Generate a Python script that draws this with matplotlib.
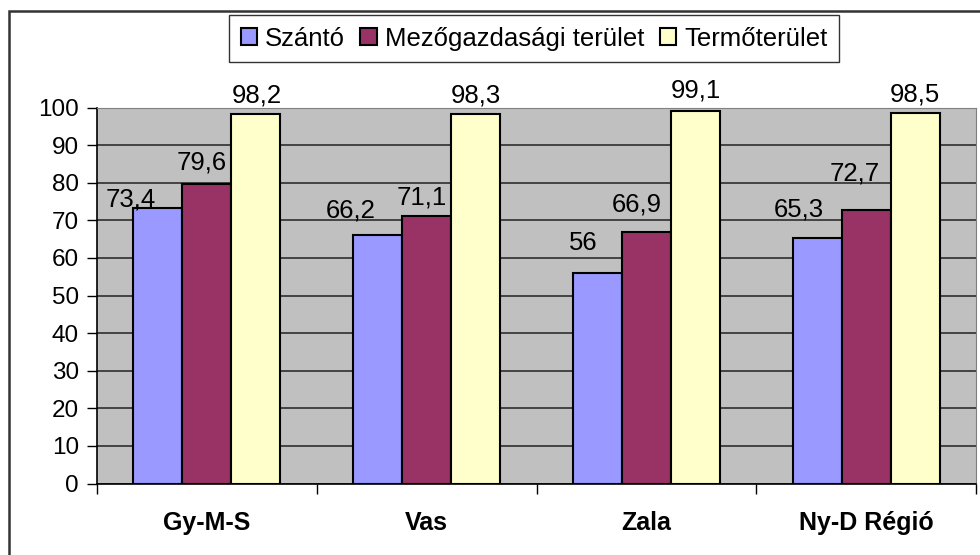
import matplotlib.pyplot as plt
import matplotlib.patches as patches
import numpy as np

plt.rcParams['font.family'] = ['Liberation Sans', 'DejaVu Sans']

regiok = ['Gy-M-S', 'Vas', 'Zala', 'Ny-D Régió']
szanto = [73.4, 66.2, 56, 65.3]
mezogazd = [79.6, 71.1, 66.9, 72.7]
termo = [98.2, 98.3, 99.1, 98.5]
sorozatok = ['Szántó', 'Mezőgazdasági terület', 'Termőterület']
szinek = ['#9999FF', '#993366', '#FFFFCC']

# label nudges in pixels (the original labels were hand placed)
dx = [[-27, -27, -14, -18],
      [-5, -5, -10, -11],
      [1, 0, 0, 0]]
dy = [[1, 17, 23, 21],
      [15, 12, 20, 30],
      [12, 11, 13, 12]]

fig = plt.figure(figsize=(9.8, 5.55), dpi=100)
ax = fig.add_axes([97/980, 1-483.5/555, 879/980, 376/555])
ax.set_facecolor('#C0C0C0')

x = np.arange(len(regiok))
w = 0.223
for i, vals in enumerate([szanto, mezogazd, termo]):
    bars = ax.bar(x + (i-1)*w, vals, w, color=szinek[i], edgecolor='black',
                  linewidth=1.5, label=sorozatok[i], zorder=3)
    for j, b in enumerate(bars):
        ax.annotate(str(vals[j]).replace('.', ','),
                    (b.get_x() + b.get_width()/2, b.get_height()),
                    xytext=(dx[i][j]*0.72, dy[i][j]*0.72), textcoords='offset points',
                    ha='center', va='baseline', fontsize=18.5)

ax.set_ylim(0, 100)
ax.set_xlim(-0.5, 3.5)
ax.set_yticks(range(0, 101, 10))
ax.yaxis.grid(True, color='#222222', linewidth=1.1, zorder=1)
ax.set_axisbelow(True)
ax.tick_params(axis='y', labelsize=17.5, length=7, width=1, pad=6)

ax.set_xticks(x)
ax.set_xticklabels(regiok, fontsize=18, fontweight='bold')
ax.tick_params(axis='x', which='major', length=0, pad=20)
ax.set_xticks(np.arange(-0.5, 4, 1), minor=True)
ax.tick_params(axis='x', which='minor', length=7, width=1)

ax.spines['top'].set_color('#808080')
ax.spines['right'].set_color('#808080')
ax.spines['left'].set_linewidth(1.2)
ax.spines['bottom'].set_linewidth(1.2)

leg = ax.legend(loc='upper center', bbox_to_anchor=(534/980, 1-15/555),
                bbox_transform=fig.transFigure, ncol=3, fontsize=18.5,
                frameon=True, fancybox=False, handlelength=0.65, handleheight=0.65,
                handletextpad=0.3, columnspacing=0.6, borderpad=0.45,
                borderaxespad=0)
leg.get_frame().set_edgecolor('black')
leg.get_frame().set_linewidth(1.0)

fig.add_artist(patches.Rectangle((9/980, -0.1), 1.2, 1.1 - 11/555, transform=fig.transFigure,
                                 fill=False, edgecolor='#333333', linewidth=1.8))

plt.savefig('out.png', dpi=100)
